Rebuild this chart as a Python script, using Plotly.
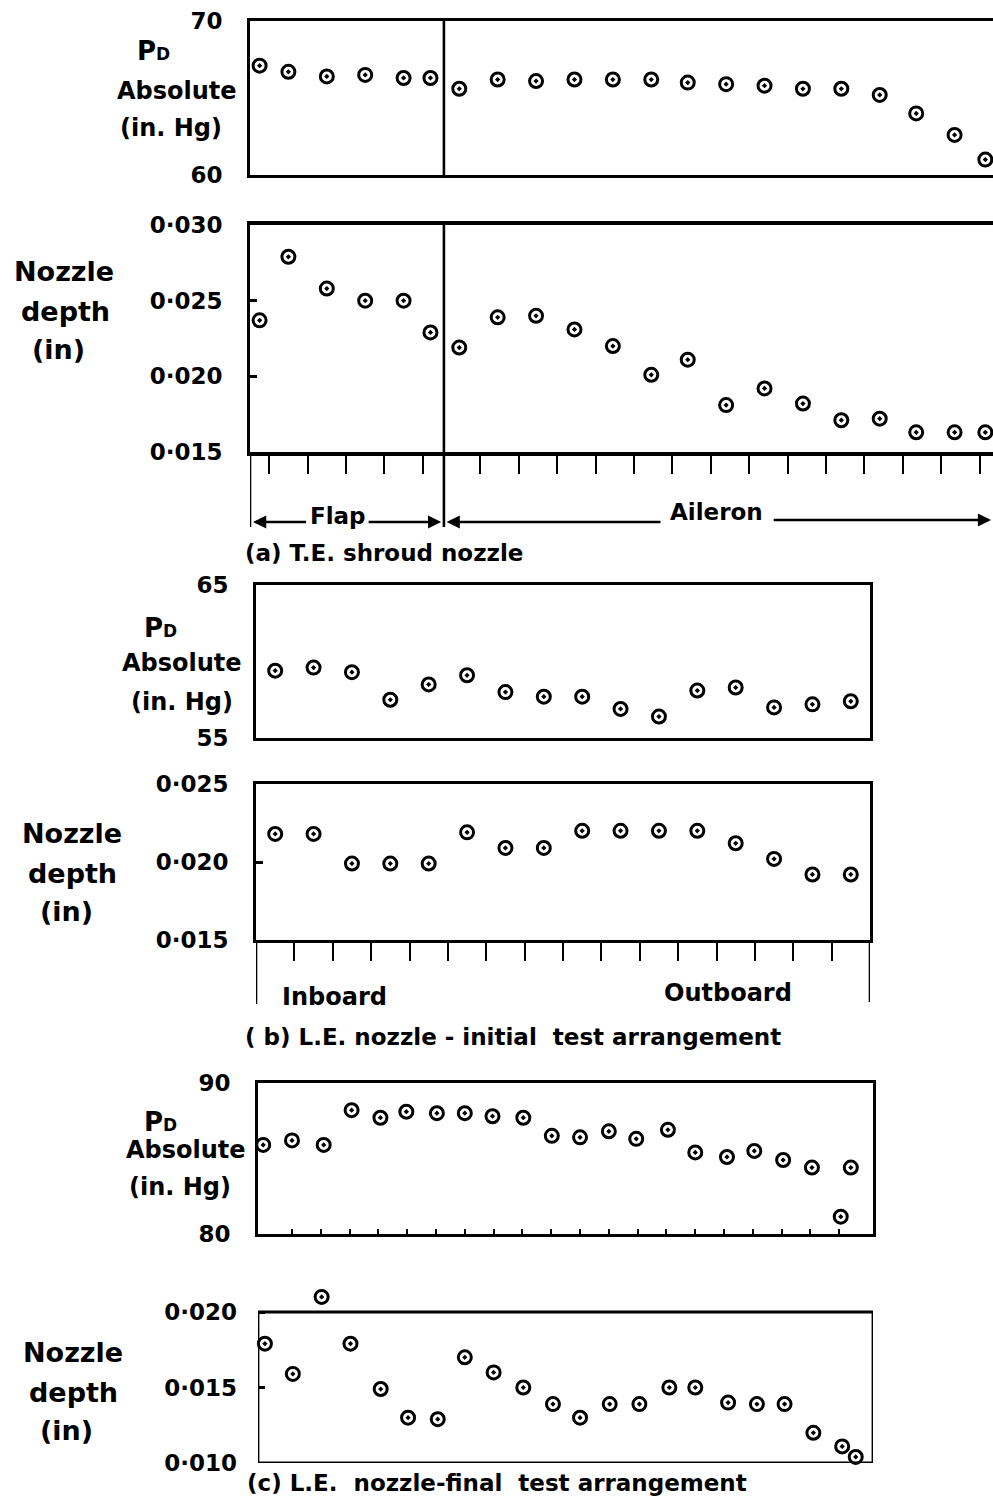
import plotly.graph_objects as go

# ---------------- data ----------------
# (a) T.E. shroud nozzle : station positions (tick units), Pd and nozzle depth
x_a = [0.25, 1.0, 2.0, 3.0, 4.0, 4.7, 5.45, 6.45, 7.45, 8.45, 9.45, 10.45,
       11.4, 12.4, 13.4, 14.4, 15.4, 16.4, 17.35, 18.35, 19.15]
pd_a = [67.1, 66.7, 66.4, 66.5, 66.3, 66.3, 65.6, 66.2, 66.1, 66.2, 66.2, 66.2,
        66.0, 65.9, 65.8, 65.6, 65.6, 65.2, 64.0, 62.6, 61.0]
depth_a = [0.0237, 0.0279, 0.0258, 0.0250, 0.0250, 0.0229, 0.0219, 0.0239, 0.0240,
           0.0231, 0.0220, 0.0201, 0.0211, 0.0181, 0.0192, 0.0182, 0.0171, 0.0172,
           0.0163, 0.0163, 0.0163]
ticks_a = [0.5, 1.5, 2.5, 3.5, 4.5, 6, 7, 8, 9, 10, 11, 12, 13, 14, 15, 16, 17, 18, 19]
flap_aileron_split = 5.05

# (b) L.E. nozzle - initial test arrangement
x_b = [0.5, 1.5, 2.5, 3.5, 4.5, 5.5, 6.5, 7.5, 8.5, 9.5, 10.5, 11.5, 12.5, 13.5, 14.5, 15.5]
pd_b = [59.4, 59.6, 59.3, 57.5, 58.5, 59.1, 58.0, 57.7, 57.7, 56.9, 56.4, 58.1,
        58.3, 57.0, 57.2, 57.4]
depth_b = [0.0218, 0.0218, 0.0199, 0.0199, 0.0199, 0.0219, 0.0209, 0.0209, 0.0220,
           0.0220, 0.0220, 0.0220, 0.0212, 0.0202, 0.0192, 0.0192]
ticks_b = [1, 2, 3, 4, 5, 6, 7, 8, 9, 10, 11, 12, 13, 14, 15]

# (c) L.E. nozzle - final test arrangement
x_c_pd = [0.0, 1.0, 2.1, 3.07, 4.07, 4.97, 6.03, 7.0, 7.96, 9.03, 10.02, 11.0,
          12.0, 12.95, 14.05, 15.0, 16.1, 17.05, 18.05, 19.05, 20.05, 20.4]
pd_c = [85.9, 86.2, 85.9, 88.2, 87.7, 88.1, 88.0, 88.0, 87.8, 87.7, 86.5, 86.4,
        86.8, 86.3, 86.9, 85.4, 85.1, 85.5, 84.9, 84.4, 81.15, 84.4]
x_c_d = [0.06, 1.03, 2.03, 3.03, 4.08, 5.03, 6.06, 7.0, 8.0, 9.03, 10.06, 11.0,
         12.03, 13.06, 14.1, 15.0, 16.14, 17.14, 18.1, 19.1, 20.1, 20.57]
depth_c = [0.0179, 0.0159, 0.0210, 0.0179, 0.0149, 0.0130, 0.0129, 0.0170, 0.0160,
           0.0150, 0.0139, 0.0130, 0.0139, 0.0139, 0.0150, 0.0150, 0.0140, 0.0139,
           0.0139, 0.0120, 0.0111, 0.0104]
ticks_c = list(range(1, 21))

# ---------------- layout helpers ----------------
W, H = 993, 1503
def px(x):
    return x / W
def py(y):
    return 1 - y / H

FONT = "DejaVu Sans"
BLACK = "black"

fig = go.Figure()
marker = dict(symbol="circle-open-dot", size=13, color=BLACK,
              line=dict(width=3.0, color=BLACK))

series = [
    (x_a, pd_a, "x", "y"),
    (x_a, depth_a, "x2", "y2"),
    (x_b, pd_b, "x3", "y3"),
    (x_b, depth_b, "x4", "y4"),
    (x_c_pd, pd_c, "x5", "y5"),
    (x_c_d, depth_c, "x6", "y6"),
]
for xs, ys, xa, ya in series:
    fig.add_trace(go.Scatter(x=xs, y=ys, mode="markers", marker=marker,
                             xaxis=xa, yaxis=ya, cliponaxis=False,
                             showlegend=False, hoverinfo="skip"))

def xax(domain, rng, anchor, mirror=True, ticks="", tickvals=None, ticklen=0, lw=2.8, showline=True):
    d = dict(domain=domain, range=rng, anchor=anchor, showgrid=False, zeroline=False,
             showline=showline, linecolor=BLACK, linewidth=lw, mirror=mirror,
             showticklabels=False, ticks=ticks, ticklen=ticklen, tickwidth=2.4,
             tickcolor=BLACK, fixedrange=True, automargin=False)
    if tickvals is not None:
        d["tickvals"] = tickvals
    return d

def yax(domain, rng, anchor, tickvals, ticktext, mirror=True, ticks="", ticklen=0, showline=True):
    return dict(domain=domain, range=rng, anchor=anchor, showgrid=False, zeroline=False,
                showline=showline, linecolor=BLACK, linewidth=2.8, mirror=mirror,
                tickvals=tickvals, ticktext=ticktext, ticks=ticks, ticklen=ticklen,
                tickwidth=2.6, tickcolor=BLACK, ticklabelstandoff=20,
                tickfont=dict(family=FONT, size=23, color=BLACK, weight="bold"),
                fixedrange=True, automargin=False)

dom_a = [px(250), 1.0]
dom_b = [px(256), px(870)]
dom_c = [px(258), px(873)]
rng_a = [0, 19.35]
rng_b = [0, 16]
rng_c = [-0.18, 21.17]

# panel (c) depth: range reaches a little above the frame so the high point stays visible
frame_c_d = [0.010, 0.020]
rng_c_d = [0.010, 0.0216]
top_c_d = 1463 - (1463 - 1312) * (rng_c_d[1] - rng_c_d[0]) / (frame_c_d[1] - frame_c_d[0])

fig.update_layout(
    template="none",
    width=W, height=H, margin=dict(l=0, r=0, t=0, b=0, pad=0, autoexpand=False),
    paper_bgcolor="white", plot_bgcolor="white",
    xaxis=xax(dom_a, rng_a, "y", mirror=True),
    yaxis=yax([py(175), py(21)], [60, 70], "x", [60, 70], ["60", "70"], mirror=False),
    xaxis2=xax(dom_a, rng_a, "y2", mirror=True, ticks="outside", tickvals=ticks_a, ticklen=18, lw=3.6),
    yaxis2=yax([py(452), py(225)], [0.015, 0.030], "x2", [0.015, 0.020, 0.025, 0.030],
               ["0·015", "0·020", "0·025", "0·030"], mirror=False, ticks="inside", ticklen=7),
    xaxis3=xax(dom_b, rng_b, "y3", mirror=True),
    yaxis3=yax([py(738), py(585)], [55, 65], "x3", [55, 65], ["55", "65"]),
    xaxis4=xax(dom_b, rng_b, "y4", mirror=True, ticks="outside", tickvals=ticks_b, ticklen=18, lw=3.4),
    yaxis4=yax([py(940), py(784)], [0.015, 0.025], "x4", [0.015, 0.020, 0.025],
               ["0·015", "0·020", "0·025"], ticks="inside", ticklen=7),
    xaxis5=xax(dom_c, rng_c, "y5", mirror=True, ticks="inside", tickvals=ticks_c, ticklen=5),
    yaxis5=yax([py(1234), py(1083)], [80, 90], "x5", [80, 90], ["80", "90"]),
    xaxis6=xax(dom_c, rng_c, "y6", showline=False),
    yaxis6=yax([py(1463), py(top_c_d)], rng_c_d, "x6", [0.010, 0.015, 0.020],
               ["0·010", "0·015", "0·020"], ticks="inside", ticklen=7, showline=False),
)

# ---------------- extra lines ----------------
line_style = dict(color=BLACK, width=2.6)
shapes = [
    # flap / aileron divider in both (a) panels
    dict(type="line", xref="x", yref="paper", x0=flap_aileron_split, x1=flap_aileron_split,
         y0=py(175), y1=py(21), line=line_style),
    dict(type="line", xref="x2", yref="paper", x0=flap_aileron_split, x1=flap_aileron_split,
         y0=py(527), y1=py(225), line=line_style),
    # left extension line below (a)
    dict(type="line", xref="x2", yref="paper", x0=0, x1=0, y0=py(527), y1=py(452), line=line_style),
    # extension lines below (b)
    dict(type="line", xref="x4", yref="paper", x0=0, x1=0, y0=py(1004), y1=py(940), line=line_style),
    dict(type="line", xref="x4", yref="paper", x0=16, x1=16, y0=py(1002), y1=py(940), line=line_style),
    # frame of panel (c) depth
    dict(type="rect", xref="x6", yref="y6", x0=rng_c[0], x1=rng_c[1],
         y0=frame_c_d[0], y1=frame_c_d[1], line=dict(color=BLACK, width=2.8),
         fillcolor="rgba(0,0,0,0)", layer="above"),
]
fig.update_layout(shapes=shapes)

ann = []
def text(x, y, s, size=24, xanchor="center"):
    ann.append(dict(x=px(x), y=py(y), xref="paper", yref="paper", text=s, showarrow=False,
                    xanchor=xanchor, yanchor="middle",
                    font=dict(family=FONT, size=size, color=BLACK, weight="bold")))

PD = "P<span style='font-size:17px'>D</span>"
# (a) labels
text(153, 51, PD, 26)
text(177, 91, "Absolute", 24)
text(171, 128, "(in. Hg)", 24)
text(64, 271, "Nozzle", 27)
text(65, 311, "depth", 27)
text(58, 349, "(in)", 27)
# (b) labels
text(160, 628, PD, 26)
text(182, 663, "Absolute", 24)
text(182, 702, "(in. Hg)", 24)
text(72, 833, "Nozzle", 27)
text(72, 873, "depth", 27)
text(66, 911, "(in)", 27)
# (c) labels
text(160, 1122, PD, 26)
text(186, 1150, "Absolute", 24)
text(180, 1187, "(in. Hg)", 24)
text(73, 1352, "Nozzle", 27)
text(73, 1392, "depth", 27)
text(66, 1430, "(in)", 27)

# region labels
text(338, 516, "Flap", 23)
text(716, 512, "Aileron", 23)
text(334, 997, "Inboard", 24)
text(728, 993, "Outboard", 24)

# captions
text(243, 553, "(a) T.E. shroud nozzle", 23, xanchor="left")
text(243, 1037, "( b) L.E. nozzle - initial  test arrangement", 23, xanchor="left")
text(245, 1483, "(c) L.E.  nozzle-final  test arrangement", 23, xanchor="left")

# arrows for Flap / Aileron spans (head at x, tail at ax)
def arrow(head, tail, y):
    ann.append(dict(x=head, y=py(y), xref="x2", yref="paper", ax=tail, ay=0,
                    axref="x2", ayref="pixel", text="", showarrow=True,
                    arrowhead=2, arrowsize=1.1, arrowwidth=2.4, arrowcolor=BLACK,
                    standoff=0, startstandoff=0))
arrow(0.08, 1.5, 522)
arrow(4.98, 3.05, 522)
arrow(5.12, 10.73, 522)
arrow(19.3, 13.6, 520)

fig.update_layout(annotations=ann)
fig.write_html("out.html")
